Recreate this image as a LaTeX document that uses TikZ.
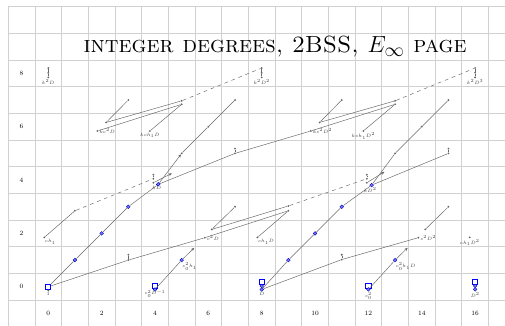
\documentclass[tikz,border=0pt]{standalone}
\usetikzlibrary{arrows.meta}

\tikzset{every picture/.style={line width=0.5pt}}
\tikzset{
  chartgrid/.style={color=black!18, line width=0.8pt},
  sline/.style={color=black!60, line width=0.5pt},
  harrow/.style={sline, -{Stealth[length=3.5pt,width=3pt]}},
  dline/.style={sline, dash pattern=on 4pt off 4pt},
  gdot/.style={circle, fill=black!60, inner sep=0pt, minimum size=2.2pt},
  bdot/.style={circle, draw=blue!70!black, fill=blue!55, line width=0.4pt, inner sep=0pt, minimum size=4pt},
  bsq/.style={rectangle, draw=blue, fill=white, line width=0.8pt, inner sep=0pt, minimum size=5.5pt},
  clab/.style={font=\tiny, inner sep=0.5pt, text=black!75},
  axlab/.style={font=\scriptsize}
}

\begin{document}
\begin{tikzpicture}[x=1cm,y=1cm]
\clip (-1.81,-1.44) rectangle (17.12,10.75);

%Grid
\foreach \i in {-1.5,-0.5,...,17.5} \draw [chartgrid] (\i,-2) -- (\i,10.5);
\foreach \j in {-1.5,-0.5,...,10.5} \draw [chartgrid] (-1.5,\j) -- (18,\j);

%Axis labels
\foreach \i in {0,2,...,16} \node [axlab] (col\i) at (\i,-1) {\i};
\foreach \j in {0,2,...,8} \node [axlab] (row\j) at (-1,\j) {\j};

% Title
\node (title) at (8.5,9) {\Huge\textsc{integer degrees, 2BSS, $E_\infty$ page}};

%%%% stem 0 -- 8
\node [bsq] (one) at (0,0) {};
\node [gdot] (one0) at (0,-0.14) {};
\node [bdot] (h1a) at (1,1) {};
\node [bdot] (h1b) at (2,2) {};
\node [bdot] (h1c) at (3,3) {};
\node [bdot] (kD) at (4.12,3.84) {};
\node [gdot] (kDt) at (3.94,4.05) {};
\node [gdot] (kDtt) at (3.94,4.2) {};
\node [gdot] (kDb) at (3.94,3.9) {};
\node [gdot] (kDh1a) at (5,5) {};
\node [gdot] (kDh1b) at (6,6) {};
\node [gdot] (kDh1c) at (7,7) {};
\node [gdot] (h2) at (3,1) {};
\node [gdot] (h2t) at (3,1.2) {};
\node [gdot] (ctD) at (5.87,1.84) {};
\node [gdot] (csD) at (6.13,2.15) {};
\node [gdot] (csDh1) at (7,3) {};
\node [gdot] (ch) at (-0.15,1.85) {};
\node [gdot] (chh) at (1,2.85) {};
\node [gdot] (kDh2) at (7,5) {};
\node [gdot] (kDh2t) at (7,5.18) {};
\node [gdot] (kcsD) at (2.17,6.16) {};
\node [gdot] (kctD) at (1.84,5.84) {};
\node [gdot] (kcsDh1) at (3,7) {};
\node [gdot] (kchD) at (3.81,5.84) {};
\node [gdot] (kcsDh2) at (5,6.97) {};
\node [gdot] (kctDh2) at (5,6.84) {};
\node [gdot] (kkDa) at (0,7.85) {};
\node [gdot] (kkDb) at (0,8.02) {};
\node [gdot] (kkDc) at (0,8.2) {};
\node [bsq] (cc) at (4,0.02) {};
\node [bdot] (ccb) at (4,-0.1) {};
\node [bdot] (cch) at (5,1) {};
\coordinate (cchend) at (5.47,1.46);
\coordinate (kDend) at (4.63,4.25);

\draw [sline] (one) -- (h1a) -- (h1b) -- (h1c) -- (kD);
\draw [harrow] (kD) -- (kDh1a);
\draw [sline] (kDh1a) -- (kDh1b) -- (kDh1c);
\draw [harrow] (kDb) -- (kDend);
\draw [sline] (one) -- (h2) -- (ctD);
\draw [sline] (h2) -- (h2t);
\draw [sline] (csD) -- (csDh1);
\draw [sline] (ch) -- (chh);
\draw [dline] (chh) -- (kDt);
\draw [sline] (kDt) -- (kDtt);
\draw [sline] (kD) -- (kDh2);
\draw [sline] (kDh2) -- (kDh2t);
\draw [sline] (kcsD) -- (kcsDh1);
\draw [sline] (kcsD) -- (kcsDh2);
\draw [sline] (kctD) -- (kctDh2);
\draw [sline] (kchD) -- (kctDh2);
\draw [sline] (kkDa) -- (kkDb) -- (kkDc);
\draw [sline] (ccb) -- (cch);
\draw [harrow] (cch) -- (cchend);

\node [clab, below] at (one0.south) {$1$};
\node [clab, below right] at (ch.south) {$ch_1$};
\node [clab, below] at (cc.south) {$c_0^2D^{-1}$};
\node [clab, below right] at (cch.south) {$c_0^2h_1$};
\node [clab, right] at (ctD.east) {$c^2D$};
\node [clab, below] at (kD.south west) {$kD$};
\node [clab, right] at (kctD.east) {$kc^2D$};
\node [clab, below] at (kchD.south) {$kch_1D$};
\node [clab, below] at (kkDa.south) {$k^2D$};

%%%% stem 8 -- 16
\node [bsq] (D) at (8,0.17) {};
\node [bdot] (Da) at (8,0.03) {};
\node [bdot] (Db) at (8,-0.1) {};
\node [bdot] (Dh1a) at (9,1) {};
\node [bdot] (Dh1b) at (10,2) {};
\node [bdot] (Dh1c) at (11,3) {};
\node [bdot] (kDD) at (12.12,3.81) {};
\node [gdot] (kDDt) at (11.94,4.05) {};
\node [gdot] (kDDtt) at (11.94,4.2) {};
\node [gdot] (kDDb) at (11.94,3.9) {};
\node [gdot] (kDDh1a) at (13,5) {};
\node [gdot] (kDDh1b) at (14,6) {};
\node [gdot] (kDDh1c) at (15,7) {};
\node [gdot] (Dh2) at (11,1.02) {};
\node [gdot] (Dh2t) at (11,1.2) {};
\node [gdot] (ctDD) at (13.87,1.84) {};
\node [gdot] (csDD) at (14.13,2.15) {};
\node [gdot] (csDDh1) at (15,3) {};
\node [gdot] (chD) at (7.84,1.85) {};
\node [gdot] (chDh1) at (9,2.85) {};
\node [gdot] (csDh2) at (9,3.03) {};
\node [gdot] (kDDh2) at (15,5) {};
\node [gdot] (kDDh2t) at (15,5.18) {};
\node [gdot] (kcsDD) at (10.17,6.16) {};
\node [gdot] (kctDD) at (9.84,5.84) {};
\node [gdot] (kcsDDh1) at (11,7) {};
\node [gdot] (kchDD) at (11.81,5.84) {};
\node [gdot] (kcsDDh2) at (13,6.97) {};
\node [gdot] (kctDDh2) at (13,6.84) {};
\node [gdot] (kkDDa) at (8,7.85) {};
\node [gdot] (kkDDb) at (8,8.02) {};
\node [gdot] (kkDDc) at (8,8.2) {};
\node [bsq] (ccD) at (12,0.02) {};
\node [bdot] (ccDb) at (12,-0.1) {};
\node [bdot] (ccDh) at (13,1) {};
\coordinate (ccDhend) at (13.47,1.46);
\coordinate (kDDend) at (12.6,4.31);
\node [bsq] (DD) at (16,0.17) {};
\node [bdot] (DDa) at (16,0.03) {};
\node [bdot] (DDb) at (16,-0.1) {};
\node [gdot] (chDD) at (15.8,1.85) {};
\node [gdot] (kkDDDa) at (16,7.85) {};
\node [gdot] (kkDDDb) at (16,8.02) {};
\node [gdot] (kkDDDc) at (16,8.2) {};

\draw [sline] (Db) -- (Dh1a) -- (Dh1b) -- (Dh1c) -- (kDD) -- (kDDh1a) -- (kDDh1b) -- (kDDh1c);
\draw [harrow] (kDDb) -- (kDDend);
\draw [sline] (Db) -- (Dh2) -- (ctDD);
\draw [sline] (Dh2) -- (Dh2t);
\draw [sline] (csDD) -- (csDDh1);
\draw [sline] (chD) -- (chDh1);
\draw [sline] (ctD) -- (chDh1);
\draw [sline] (csD) -- (csDh2);
\draw [dline] (csDh2) -- (kDDt);
\draw [sline] (kDDt) -- (kDDtt);
\draw [sline] (kDD) -- (kDDh2);
\draw [sline] (kDDh2) -- (kDDh2t);
\draw [sline] (kDh2) -- (kctDD);
\draw [sline] (kcsDD) -- (kcsDDh1);
\draw [sline] (kcsDD) -- (kcsDDh2);
\draw [sline] (kctDD) -- (kctDDh2);
\draw [sline] (kchDD) -- (kctDDh2);
\draw [dline] (kcsDh2) -- (kkDDc);
\draw [dline] (kcsDDh2) -- (kkDDDc);
\draw [sline] (kkDDa) -- (kkDDb) -- (kkDDc);
\draw [sline] (kkDDDa) -- (kkDDDb) -- (kkDDDc);
\draw [sline] (ccDb) -- (ccDh);
\draw [harrow] (ccDh) -- (ccDhend);

\node [clab, below] at (Db.south) {$D$};
\node [clab, below] at (DDb.south) {$D^2$};
\node [clab, below] at (ccDb.south) {$c_0^2$};
\node [clab, below right] at (ccDh.south) {$c_0^2h_1D$};
\node [clab, below right] at (chD.south) {$ch_1D$};
\node [clab, below] at (chDD.south) {$ch_1D^2$};
\node [clab, right] at (ctDD.east) {$c^2D^2$};
\node [clab, below] at (kDD.south west) {$kD^2$};
\node [clab, right] at (kctDD.east) {$kc^2D^2$};
\node [clab, below] at (kchDD.south) {$kch_1D^2$};
\node [clab, below] at (kkDDa.south) {$k^2D^2$};
\node [clab, below] at (kkDDDa.south) {$k^2D^3$};

\end{tikzpicture}
\end{document}
